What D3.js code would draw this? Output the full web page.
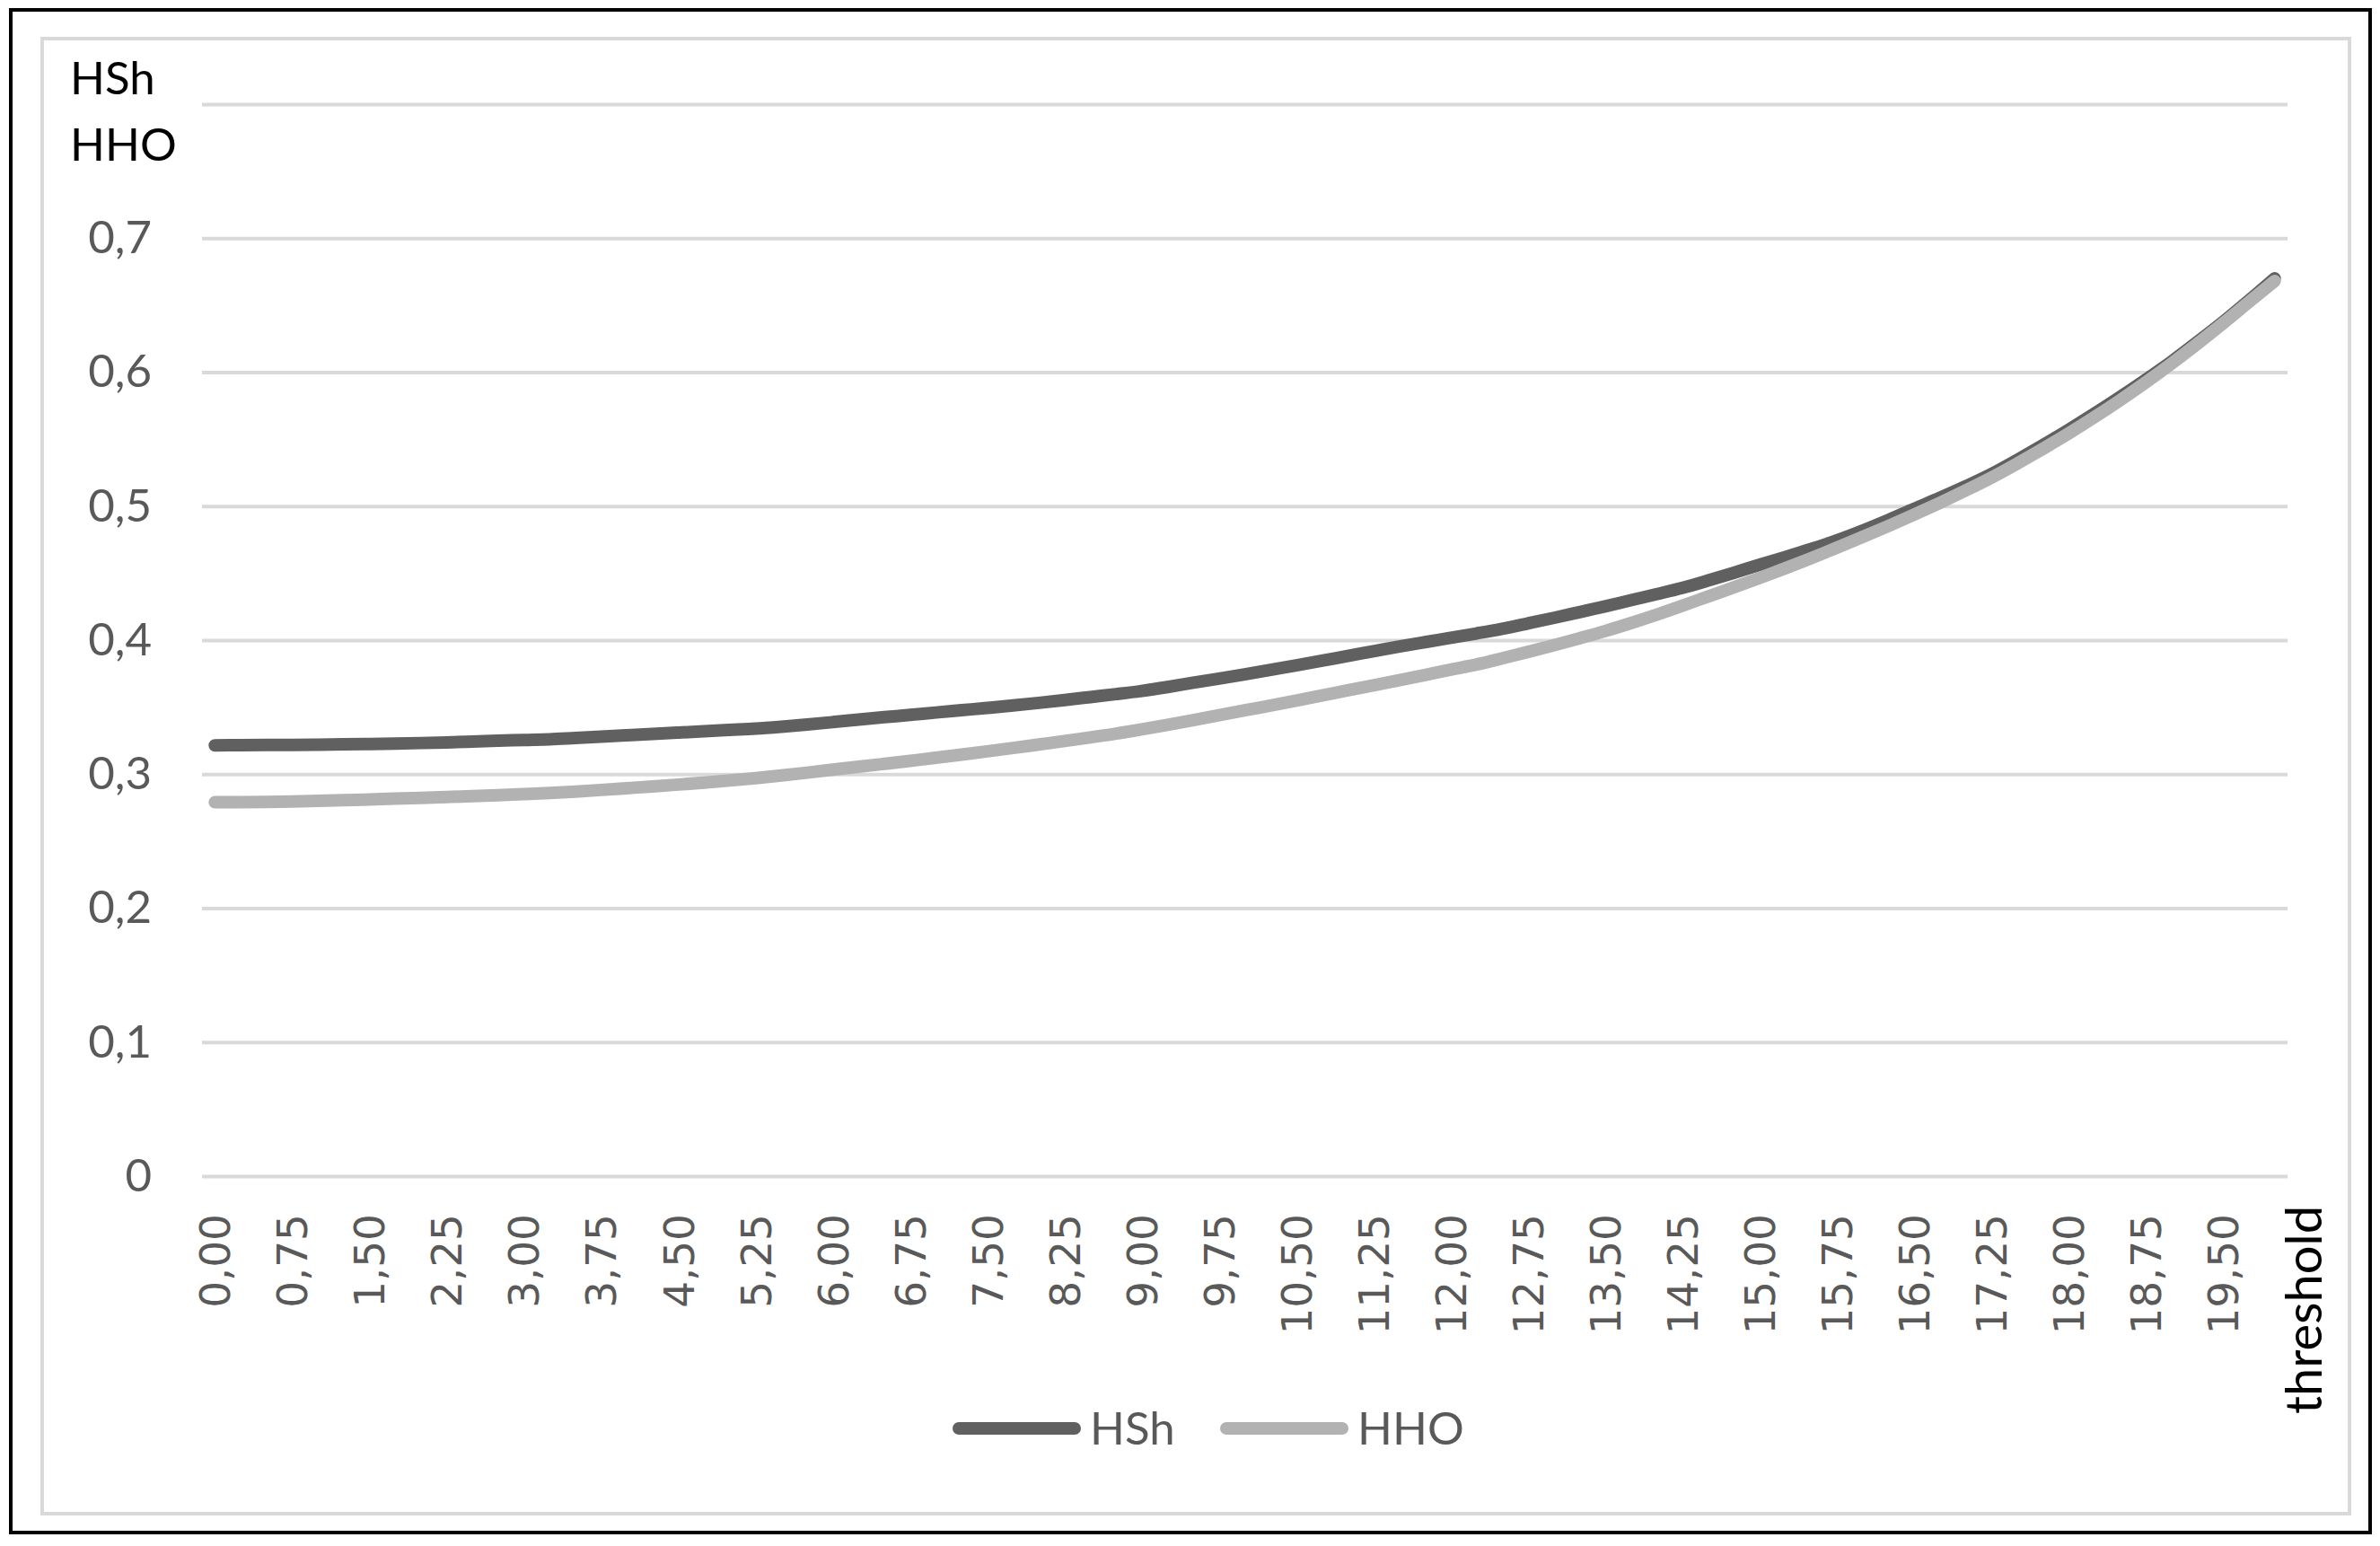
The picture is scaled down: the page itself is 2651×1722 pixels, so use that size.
<!DOCTYPE html>
<html>
<head>
<meta charset="utf-8">
<script src="https://cdn.jsdelivr.net/npm/d3@7.9.0/dist/d3.min.js"></script>
<style>
  body { margin: 0; background: #fff; }
  svg { display: block; }
</style>
</head>
<body>
<div id="chart"></div>
<script>
// thresholds (category axis), step 0.25
const thresholds = [
  0, 0.25, 0.5, 0.75, 1, 1.25, 1.5, 1.75, 2, 2.25, 2.5, 2.75, 3, 3.25, 3.5, 3.75,
  4, 4.25, 4.5, 4.75, 5, 5.25, 5.5, 5.75, 6, 6.25, 6.5, 6.75, 7, 7.25, 7.5, 7.75,
  8, 8.25, 8.5, 8.75, 9, 9.25, 9.5, 9.75, 10, 10.25, 10.5, 10.75, 11, 11.25, 11.5, 11.75,
  12, 12.25, 12.5, 12.75, 13, 13.25, 13.5, 13.75, 14, 14.25, 14.5, 14.75, 15, 15.25, 15.5, 15.75,
  16, 16.25, 16.5, 16.75, 17, 17.25, 17.5, 17.75, 18, 18.25, 18.5, 18.75, 19, 19.25, 19.5, 19.75, 20
];

const hshValues = [
  0.3215, 0.3216, 0.3217, 0.3218, 0.3220, 0.3222, 0.3225, 0.3228, 0.3232, 0.3237,
  0.3243, 0.3249, 0.3255, 0.3260, 0.3270, 0.3280, 0.3290, 0.3300, 0.3310, 0.3320,
  0.3330, 0.3340, 0.3354, 0.3370, 0.3388, 0.3407, 0.3425, 0.3442, 0.3460, 0.3477,
  0.3494, 0.3512, 0.3532, 0.3553, 0.3575, 0.3597, 0.3621, 0.3650, 0.3682, 0.3713,
  0.3745, 0.3778, 0.3811, 0.3846, 0.3882, 0.3917, 0.3952, 0.3985, 0.4017, 0.4050,
  0.4085, 0.4125, 0.4166, 0.4209, 0.4252, 0.4298, 0.4343, 0.4390, 0.4445, 0.4503,
  0.4563, 0.4620, 0.4680, 0.4745, 0.4818, 0.4897, 0.4980, 0.5062, 0.5148, 0.5240,
  0.5345, 0.5455, 0.5570, 0.5690, 0.5815, 0.5945, 0.6080, 0.6225, 0.6375, 0.6535,
  0.6700
];

const hhoValues = [
  0.2790, 0.2791, 0.2793, 0.2796, 0.2800, 0.2805, 0.2811, 0.2817, 0.2823, 0.2829,
  0.2836, 0.2843, 0.2851, 0.2859, 0.2870, 0.2882, 0.2895, 0.2908, 0.2922, 0.2937,
  0.2953, 0.2970, 0.2990, 0.3011, 0.3033, 0.3055, 0.3077, 0.3099, 0.3122, 0.3146,
  0.3170, 0.3195, 0.3221, 0.3247, 0.3274, 0.3302, 0.3334, 0.3368, 0.3403, 0.3439,
  0.3476, 0.3512, 0.3549, 0.3587, 0.3625, 0.3663, 0.3701, 0.3740, 0.3780, 0.3818,
  0.3864, 0.3912, 0.3962, 0.4014, 0.4068, 0.4127, 0.4190, 0.4257, 0.4326, 0.4394,
  0.4464, 0.4537, 0.4612, 0.4690, 0.4770, 0.4852, 0.4937, 0.5025, 0.5117, 0.5213,
  0.5318, 0.5428, 0.5543, 0.5664, 0.5791, 0.5925, 0.6065, 0.6212, 0.6365, 0.6523,
  0.6680
];

const yTicks = [0, 0.1, 0.2, 0.3, 0.4, 0.5, 0.6, 0.7, 0.8];
const seriesNames = ['HSh', 'HHO'];
const seriesColors = ['#606060', '#b2b2b2'];

const width = 2651;
const height = 1722;
const plot = { left: 225, right: 2548, top: 116, bottom: 1310 };

const svg = d3.select('#chart')
  .append('svg')
  .attr('width', width)
  .attr('height', height)
  .attr('viewBox', `0 0 ${width} ${height}`);

svg.append('rect')
  .attr('width', width).attr('height', height)
  .attr('fill', '#fff');

// outer black frame + inner grey chart area border
svg.append('rect')
  .attr('x', 12).attr('y', 11)
  .attr('width', 2628).attr('height', 1696)
  .attr('fill', 'none').attr('stroke', '#000').attr('stroke-width', 4);

svg.append('rect')
  .attr('x', 47).attr('y', 43)
  .attr('width', 2570).attr('height', 1643)
  .attr('fill', 'none').attr('stroke', '#d9d9d9').attr('stroke-width', 4);

const xScale = d3.scalePoint()
  .domain(thresholds)
  .range([plot.left, plot.right])
  .padding(0.5);

const yScale = d3.scaleLinear()
  .domain([0, 0.8])
  .range([plot.bottom, plot.top]);

// y axis with gridlines
const yAxis = d3.axisLeft(yScale)
  .tickValues(yTicks)
  .tickSize(-(plot.right - plot.left))
  .tickPadding(56)
  .tickFormat(d => d >= 0.8 ? '' : String(+d.toFixed(1)).replace('.', ','));

const gy = svg.append('g')
  .attr('transform', `translate(${plot.left}, 0)`)
  .call(yAxis);

gy.select('.domain').remove();
gy.selectAll('line').attr('stroke', '#d9d9d9').attr('stroke-width', 4);
gy.selectAll('text')
  .attr('fill', '#595959')
  .style('font-family', 'Lato, sans-serif')
  .style('font-size', '51px');

// x axis: category labels every third threshold, rotated
const xAxis = d3.axisBottom(xScale)
  .tickValues(thresholds.filter((d, i) => i % 3 === 0))
  .tickSize(0)
  .tickFormat(d => d.toFixed(2).replace('.', ','));

const gx = svg.append('g')
  .attr('transform', `translate(0, ${plot.bottom})`)
  .call(xAxis);

gx.select('.domain').remove();
gx.selectAll('text')
  .attr('transform', 'rotate(-90)')
  .attr('x', -42)
  .attr('y', 0)
  .attr('dy', '0.35em')
  .attr('text-anchor', 'end')
  .attr('fill', '#595959')
  .style('font-family', '"DejaVu Sans", sans-serif')
  .style('font-size', '47px');

// axis titles
svg.append('text')
  .attr('x', 78).attr('y', 105)
  .attr('fill', '#000')
  .style('font-family', 'Lato, sans-serif')
  .style('font-size', '51px')
  .text('HSh');

svg.append('text')
  .attr('x', 78).attr('y', 179)
  .attr('fill', '#000')
  .style('font-family', 'Lato, sans-serif')
  .style('font-size', '51px')
  .text('HHO');

svg.append('text')
  .attr('transform', 'translate(2566, 1343) rotate(-90)')
  .attr('dy', '0.35em')
  .attr('text-anchor', 'end')
  .attr('fill', '#000')
  .style('font-family', 'Lato, sans-serif')
  .style('font-size', '56px')
  .text('threshold');

// lines
const series = [hshValues, hhoValues].map((values, k) => ({
  name: seriesNames[k],
  color: seriesColors[k],
  points: values.map((v, i) => ({ t: thresholds[i], v }))
}));

const line = d3.line()
  .x(d => xScale(d.t))
  .y(d => yScale(d.v))
  .curve(d3.curveMonotoneX);

svg.append('g')
  .selectAll('path')
  .data(series)
  .join('path')
  .attr('d', d => line(d.points))
  .attr('fill', 'none')
  .attr('stroke', d => d.color)
  .attr('stroke-width', 14)
  .attr('stroke-linecap', 'round')
  .attr('stroke-linejoin', 'round');

// legend
const legendX = [1068, 1366];
const legend = svg.append('g')
  .selectAll('g')
  .data(series)
  .join('g')
  .attr('transform', (d, i) => `translate(${legendX[i]}, 1591)`);

legend.append('line')
  .attr('x1', 0).attr('x2', 129)
  .attr('y1', 0).attr('y2', 0)
  .attr('stroke', d => d.color)
  .attr('stroke-width', 14)
  .attr('stroke-linecap', 'round');

legend.append('text')
  .attr('x', 146)
  .attr('dy', '0.36em')
  .attr('fill', '#595959')
  .style('font-family', 'Lato, sans-serif')
  .style('font-size', '51px')
  .text(d => d.name);
</script>
</body>
</html>
